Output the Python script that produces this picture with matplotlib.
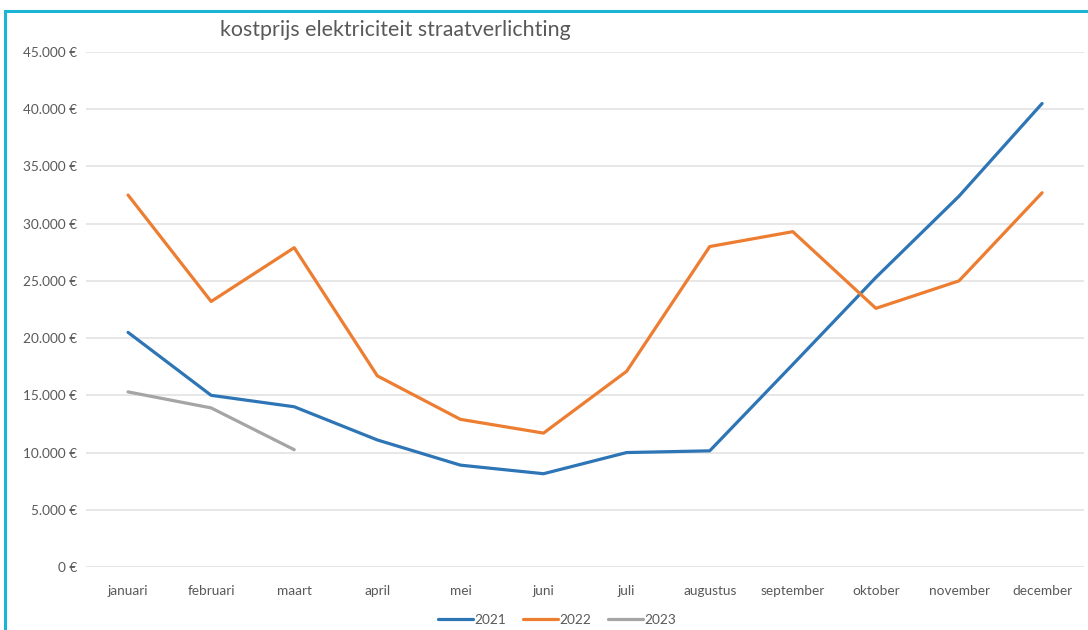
import matplotlib.pyplot as plt
from matplotlib.lines import Line2D
from matplotlib.ticker import FuncFormatter

plt.rcParams['font.family'] = ['Lato', 'DejaVu Sans']

maanden = ['januari', 'februari', 'maart', 'april', 'mei', 'juni', 'juli',
           'augustus', 'september', 'oktober', 'november', 'december']
kost_2021 = [20500, 15000, 14000, 11100, 8900, 8150, 10000, 10150, 17700, 25300, 32400, 40500]
kost_2022 = [32500, 23200, 27900, 16700, 12900, 11700, 17100, 28000, 29300, 22600, 25000, 32700]
kost_2023 = [15300, 13900, 10250]

grijs = '#595959'


def euro(v, pos):
    if v == 0:
        return '0 €'
    return f"{int(v):,} €".replace(',', '.')


fig = plt.figure(figsize=(10.88, 6.30), dpi=100)
ax = fig.add_axes([0.0795, 0.1, 0.9165, 0.8175])

x = list(range(len(maanden)))
ax.plot(x, kost_2021, color='#2E75B6', linewidth=2.3, label='2021', solid_capstyle='round')
ax.plot(x, kost_2022, color='#ED7D31', linewidth=2.3, label='2022', solid_capstyle='round')
ax.plot(x[:len(kost_2023)], kost_2023, color='#A5A5A5', linewidth=2.3, label='2023', solid_capstyle='round')

ax.set_xlim(-0.5, len(maanden) - 0.5)
ax.set_ylim(0, 45000)
ax.set_yticks(range(0, 45001, 5000))
ax.yaxis.set_major_formatter(FuncFormatter(euro))
ax.set_xticks(x)
ax.set_xticklabels(maanden)
ax.tick_params(axis='both', length=0, labelsize=9.8, labelcolor=grijs)
ax.tick_params(axis='x', pad=13)
ax.tick_params(axis='y', pad=7)
ax.grid(axis='y', color='#E3E3E3', linewidth=1.2)
ax.set_axisbelow(True)
for s in ax.spines.values():
    s.set_visible(False)

fig.text(220 / 1088, 1 - 30 / 630, 'kostprijs elektriciteit straatverlichting',
         fontsize=15.4, color=grijs, va='center', ha='left')

fig.legend(loc='center', bbox_to_anchor=(557 / 1088, 1 - 620 / 630), ncol=3,
           frameon=False, fontsize=9.8, labelcolor=grijs, handlelength=2.6,
           handletextpad=0.1, columnspacing=1.2)

# cyaan kader links en boven
cyaan = '#1BB4D4'
fig.add_artist(Line2D([5 / 1088, 5 / 1088], [0, 1 - 11 / 630], color=cyaan, linewidth=2.2))
fig.add_artist(Line2D([5 / 1088, 1], [1 - 11 / 630, 1 - 11 / 630], color=cyaan, linewidth=2.2))

fig.savefig('out.png', dpi=100, facecolor='white')
